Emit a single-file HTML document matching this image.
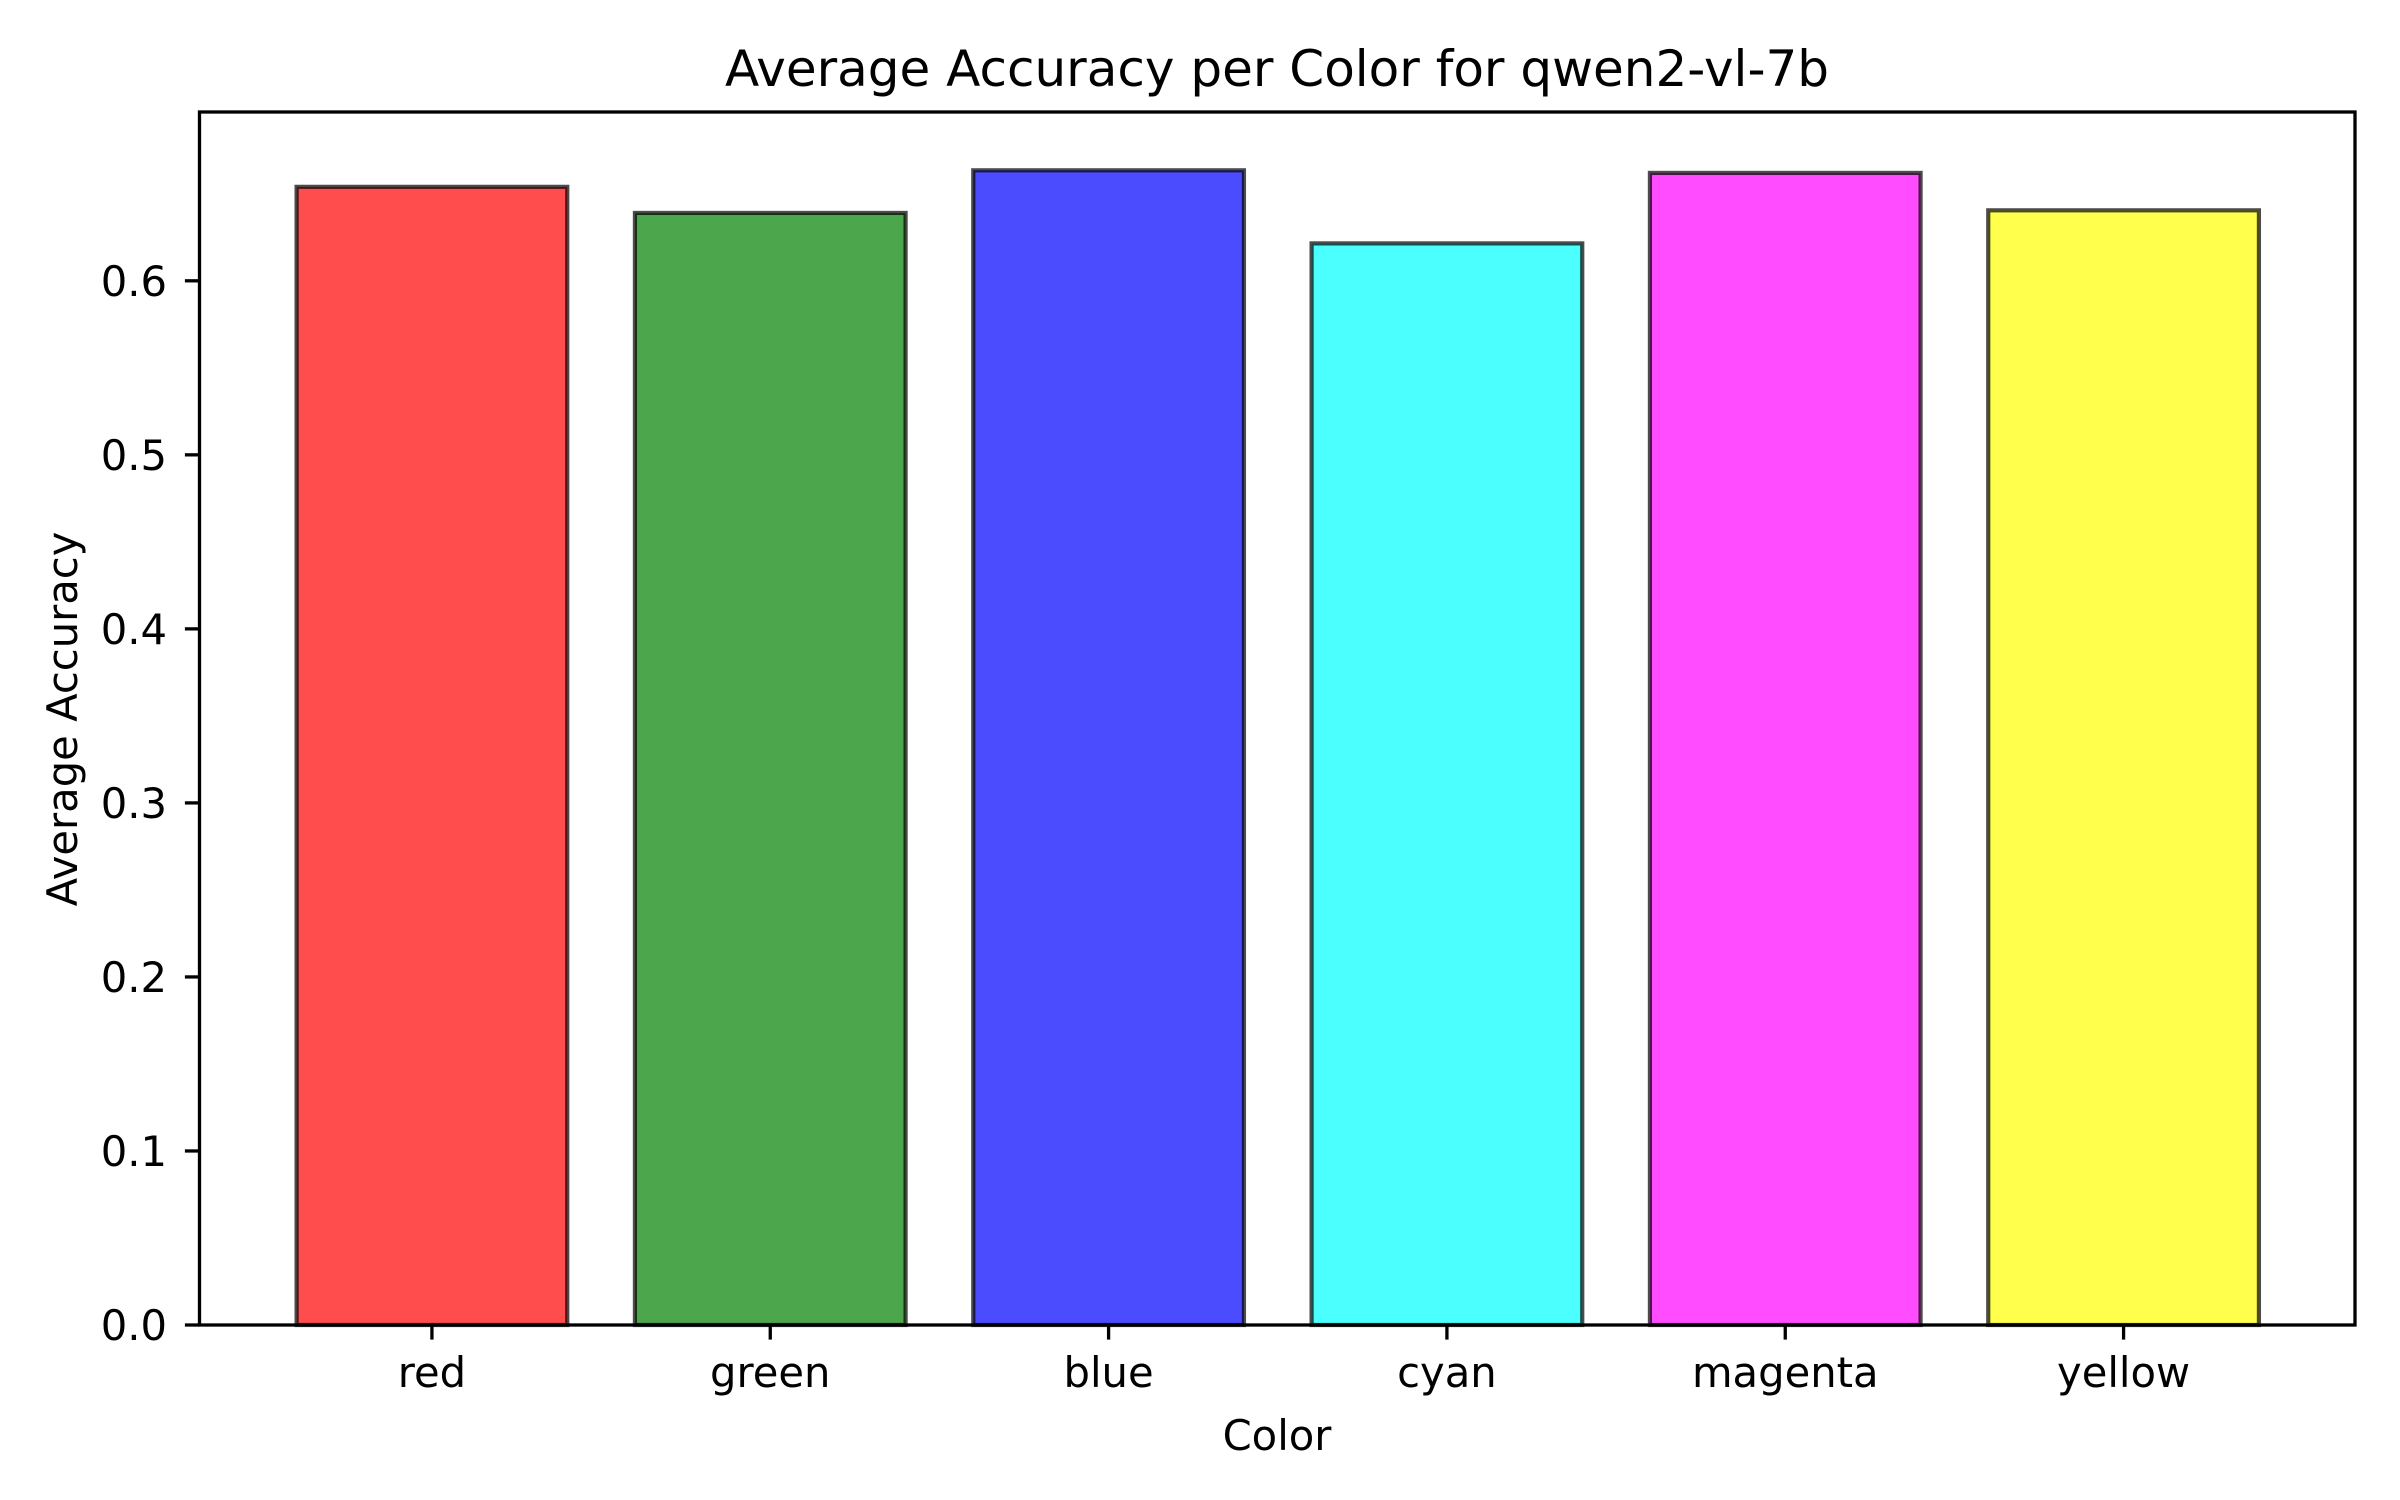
<!DOCTYPE html>
<html><head><meta charset="utf-8"><style>
html,body{margin:0;padding:0;background:#fff;}
svg{display:block;font-family:"DejaVu Sans","Liberation Sans",sans-serif;}
</style></head><body>
<svg id="chart" width="2400" height="1500" viewBox="0 0 2400 1500" xmlns="http://www.w3.org/2000/svg">
<rect width="2400" height="1500" fill="#fff"/>
<text x="1277" y="86" font-size="50" text-anchor="middle">Average Accuracy per Color for qwen2-vl-7b</text>
<g id="bars"></g>
<g id="yaxis"></g>
<g id="xaxis"></g>
<rect x="199.5" y="112" width="2155.5" height="1213" fill="none" stroke="#000" stroke-width="3.3"/>
<text x="1277" y="1450" font-size="41.7" text-anchor="middle">Color</text>
<text transform="translate(77,719) rotate(-90)" font-size="41.7" text-anchor="middle">Average Accuracy</text>
</svg>
<script>
const categories = ["red","green","blue","cyan","magenta","yellow"];
const values = [0.654, 0.639, 0.6635, 0.6215, 0.662, 0.6405];
const fills = ["#ff0000","#008000","#0000ff","#00ffff","#ff00ff","#ffff00"];
const yTicks = [0.0,0.1,0.2,0.3,0.4,0.5,0.6];
const yTickLabels = ["0.0","0.1","0.2","0.3","0.4","0.5","0.6"];

const NS = "http://www.w3.org/2000/svg";
const L=199.5, R=2355, T=112, B=1325;
const xMin=-0.687, xMax=5.684, yMin=0, yMax=0.697;
function xs(v){ return L + (v - xMin) / (xMax - xMin) * (R - L); }
function ys(v){ return B - (v - yMin) / (yMax - yMin) * (B - T); }
function mk(tag, attrs, parent){ const e=document.createElementNS(NS,tag); for(const k in attrs) e.setAttribute(k,attrs[k]); parent.appendChild(e); return e; }

const gb=document.getElementById('bars');
const gx=document.getElementById('xaxis');
const gy=document.getElementById('yaxis');
const bw = 0.8;
categories.forEach((c,i)=>{
  const x0=xs(i-bw/2), x1=xs(i+bw/2), y0=ys(values[i]), y1=ys(0);
  const r=mk('rect',{x:x0,y:y0,width:x1-x0,height:y1-y0,fill:fills[i],'fill-opacity':0.7,stroke:'#000','stroke-opacity':0.7,'stroke-width':4.2},gb);
  
  
  const t=mk('line',{x1:xs(i),x2:xs(i),y1:B,y2:B+14.6,stroke:'#000','stroke-width':3.3},gx);
  
  
  const lb=mk('text',{x:xs(i),y:1387,'font-size':41.7,'text-anchor':'middle'},gx);
  lb.textContent=c;
  
  
});
yTicks.forEach((v,i)=>{
  const y=ys(v);
  const t=mk('line',{x1:L-14.6,x2:L,y1:y,y2:y,stroke:'#000','stroke-width':3.3},gy);
  
  
  const lb=mk('text',{x:167,y:y+15,'font-size':41.7,'text-anchor':'end'},gy);
  lb.textContent=yTickLabels[i];
  
  
});
</script>
</body></html>
